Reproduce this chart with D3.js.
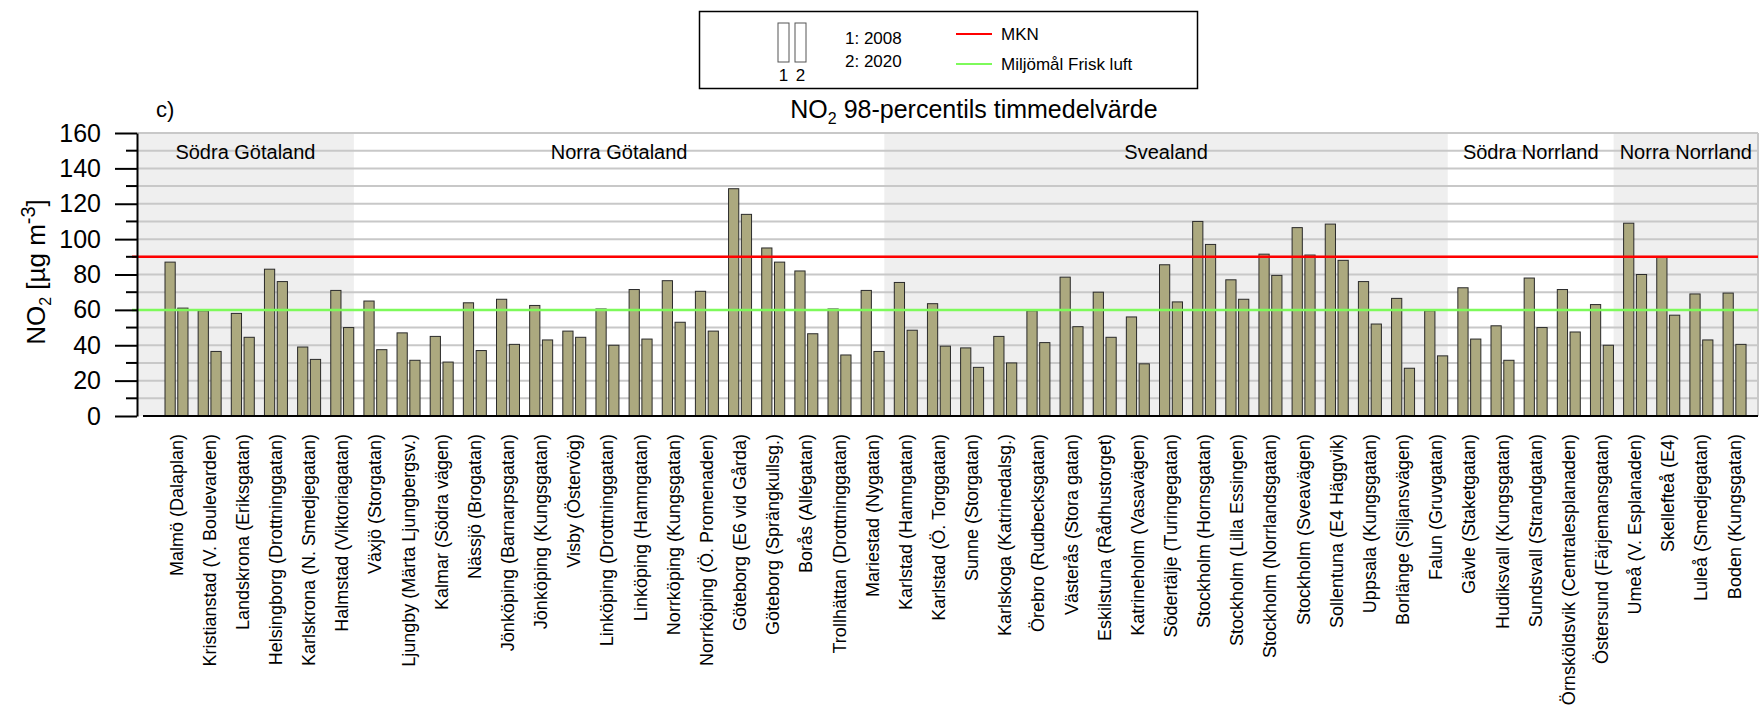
<!DOCTYPE html>
<html>
<head>
<meta charset="utf-8">
<script src="https://cdn.jsdelivr.net/npm/d3@7"></script>
<style>
  body { margin: 0; background: #fff; }
  svg { display: block; font-family: "Liberation Sans", Arial, sans-serif; }
</style>
</head>
<body>
<svg width="1764" height="718"></svg>
<script>
const categories = ["Malmö (Dalaplan)", "Kristianstad (V. Boulevarden)", "Landskrona (Eriksgatan)",
  "Helsingborg (Drottninggatan)", "Karlskrona (N. Smedjegatan)", "Halmstad (Viktoriagatan)",
  "Växjö (Storgatan)", "Ljungby (Märta Ljungbergsv.)", "Kalmar (Södra vägen)", "Nässjö (Brogatan)",
  "Jönköping (Barnarpsgatan)", "Jönköping (Kungsgatan)", "Visby (Östervög)", "Linköping (Drottninggatan)",
  "Linköping (Hamngatan)", "Norrköping (Kungsgatan)", "Norrköping (Ö. Promenaden)", "Göteborg (E6 vid Gårda)",
  "Göteborg (Sprängkullsg.)", "Borås (Allégatan)", "Trollhättan (Drottninggatan)", "Mariestad (Nygatan)",
  "Karlstad (Hamngatan)", "Karlstad (Ö. Torggatan)", "Sunne (Storgatan)", "Karlskoga (Katrinedalsg.)",
  "Örebro (Rudbecksgatan)", "Västerås (Stora gatan)", "Eskilstuna (Rådhustorget)", "Katrineholm (Vasavägen)",
  "Södertälje (Turingegatan)", "Stockholm (Hornsgatan)", "Stockholm (Lilla Essingen)", "Stockholm (Norrlandsgatan)",
  "Stockholm (Sveavägen)", "Sollentuna (E4 Häggvik)", "Uppsala (Kungsgatan)", "Borlänge (Siljansvägen)",
  "Falun (Gruvgatan)", "Gävle (Staketgatan)", "Hudiksvall (Kungsgatan)", "Sundsvall (Strandgatan)",
  "Örnsköldsvik (Centralesplanaden)", "Östersund (Färjemansgatan)", "Umeå (V. Esplanaden)", "Skellefteå (E4)",
  "Luleå (Smedjegatan)", "Boden (Kungsgatan)"];

const values2008 = [87, 59.5, 58, 83, 39, 71, 65, 47, 45, 64, 66, 62.5, 48, 60.5, 71.5, 76.5, 70.5, 128.5,
  95, 82, 60.5, 71, 75.5, 63.5, 38.5, 45, 59.5, 78.5, 70, 56, 85.5, 110, 77, 91.5, 106.5, 108.5, 76, 66.5,
  59.5, 72.5, 51, 78, 71.5, 63, 109, 90, 69, 69.5];

const values2020 = [61, 36.5, 44.5, 76, 32, 50, 37.5, 31.5, 30.5, 37, 40.5, 43, 44.5, 40, 43.5, 53, 48, 114,
  87, 46.5, 34.5, 36.5, 48.5, 39.5, 27.5, 30, 41.5, 50.5, 44.5, 29.5, 64.5, 97, 66, 79.5, 91, 88, 52, 27,
  34, 43.5, 31.5, 50, 47.5, 40, 80, 57, 43, 40.5];

const regionNames = ["Södra Götaland", "Norra Götaland", "Svealand", "Södra Norrland", "Norra Norrland"];
const regionCounts = [6, 16, 17, 5, 4];

const years = ["2008", "2020"];
const yTicks = [0, 20, 40, 60, 80, 100, 120, 140, 160];
const limitMKN = 90;
const limitMiljomal = 60;

const width = 1764;
const height = 718;
const plot = { left: 137, right: 1758, top: 133, bottom: 416 };

const svg = d3.select("svg")
  .attr("viewBox", [0, 0, width, height]);

const x = d3.scaleBand()
  .domain(categories)
  .range([155, 1746.2])
  .padding(0);

const x1 = d3.scaleBand()
  .domain(years)
  .range([10, 33])
  .paddingInner(0.2);

const y = d3.scaleLinear()
  .domain([0, 160])
  .range([plot.bottom, plot.top]);

// region background
let start = 0;
const regions = regionNames.map((name, i) => {
  const first = categories[start];
  const last = categories[start + regionCounts[i] - 1];
  start += regionCounts[i];
  return {
    name,
    x0: i === 0 ? plot.left : x(first),
    x1: i === regionNames.length - 1 ? plot.right : x(last) + x.bandwidth(),
    shaded: i % 2 === 0
  };
});

svg.append("g")
  .selectAll("rect")
  .data(regions)
  .join("rect")
  .attr("x", d => d.x0)
  .attr("y", plot.top)
  .attr("width", d => d.x1 - d.x0)
  .attr("height", plot.bottom - plot.top)
  .attr("fill", d => d.shaded ? "#efefef" : "#fff");

// grid every 10
svg.append("g")
  .attr("stroke", "#c8c8c8")
  .attr("stroke-width", 2)
  .selectAll("line")
  .data(d3.range(10, 161, 10))
  .join("line")
  .attr("x1", plot.left)
  .attr("x2", plot.right)
  .attr("y1", d => y(d))
  .attr("y2", d => y(d));

svg.append("line")
  .attr("x1", plot.right).attr("x2", plot.right)
  .attr("y1", plot.top).attr("y2", plot.bottom)
  .attr("stroke", "#c8c8c8")
  .attr("stroke-width", 2);

svg.append("g")
  .attr("font-size", 20)
  .attr("text-anchor", "middle")
  .selectAll("text")
  .data(regions)
  .join("text")
  .attr("x", d => (d.x0 + d.x1) / 2)
  .attr("y", 159)
  .text(d => d.name);

// bars
const rows = categories.map((c, i) => ({ name: c, values: [values2008[i], values2020[i]] }));

svg.append("g")
  .selectAll("g")
  .data(rows)
  .join("g")
  .attr("transform", d => `translate(${x(d.name)},0)`)
  .selectAll("rect")
  .data(d => d.values.map((v, j) => ({ year: years[j], value: v })))
  .join("rect")
  .attr("x", d => x1(d.year))
  .attr("y", d => y(d.value))
  .attr("width", x1.bandwidth())
  .attr("height", d => y(0) - y(d.value))
  .attr("fill", "#aca97f")
  .attr("stroke", "#2a2a2a")
  .attr("stroke-width", 1);

// limit lines
svg.append("line")
  .attr("x1", 132).attr("x2", plot.right)
  .attr("y1", y(limitMiljomal)).attr("y2", y(limitMiljomal))
  .attr("stroke", "#7dfa5a").attr("stroke-width", 2.5);

svg.append("line")
  .attr("x1", 132).attr("x2", plot.right)
  .attr("y1", y(limitMKN)).attr("y2", y(limitMKN))
  .attr("stroke", "#ff0000").attr("stroke-width", 2.5);

// baseline
svg.append("line")
  .attr("x1", 143).attr("x2", plot.right)
  .attr("y1", y(0)).attr("y2", y(0))
  .attr("stroke", "#000").attr("stroke-width", 2);

// y axis
const yAxis = g => g
  .attr("transform", `translate(${plot.left},0)`)
  .call(d3.axisLeft(y).tickValues(yTicks).tickSize(22).tickPadding(14).tickSizeOuter(0))
  .call(g => g.selectAll("line").attr("stroke-width", 2))
  .call(g => g.select(".domain").attr("stroke-width", 2))
  .call(g => g.selectAll("text").attr("font-size", 25).attr("fill", "#000")
    .attr("font-family", "Liberation Sans, Arial, sans-serif"));

svg.append("g").call(yAxis);

svg.append("g")
  .attr("stroke", "#000")
  .attr("stroke-width", 2)
  .selectAll("line")
  .data(d3.range(10, 160, 20))
  .join("line")
  .attr("x1", plot.left - 11)
  .attr("x2", plot.left)
  .attr("y1", d => y(d))
  .attr("y2", d => y(d));

// x labels
svg.append("g")
  .attr("font-size", 18)
  .attr("text-anchor", "end")
  .selectAll("text")
  .data(categories)
  .join("text")
  .attr("transform", d => `translate(${x(d) + 10 + 11.5 + 6},434) rotate(-90)`)
  .text(d => d);

// y title
const yTitle = svg.append("text")
  .attr("transform", "translate(45,272) rotate(-90)")
  .attr("text-anchor", "middle")
  .attr("font-size", 26);
yTitle.append("tspan").text("NO");
yTitle.append("tspan").attr("font-size", 16).attr("dy", 6).text("2");
yTitle.append("tspan").attr("dy", -6).text(" [µg m");
yTitle.append("tspan").attr("font-size", 20).attr("dy", -10).text("-3");
yTitle.append("tspan").attr("dy", 10).text("]");

// panel letter and title
svg.append("text")
  .attr("x", 156).attr("y", 117)
  .attr("font-size", 22)
  .text("c)");

const title = svg.append("text")
  .attr("x", 974).attr("y", 118)
  .attr("text-anchor", "middle")
  .attr("font-size", 25);
title.append("tspan").text("NO");
title.append("tspan").attr("font-size", 16).attr("dy", 6).text("2");
title.append("tspan").attr("dy", -6).text(" 98-percentils timmedelvärde");

// legend
const legend = svg.append("g").attr("font-size", 17);

legend.append("rect")
  .attr("x", 699.5).attr("y", 11.5)
  .attr("width", 498).attr("height", 77)
  .attr("fill", "#fff").attr("stroke", "#000").attr("stroke-width", 1.5);

legend.selectAll(".lb")
  .data(years)
  .join("rect")
  .attr("class", "lb")
  .attr("x", (d, i) => 778 + i * 17)
  .attr("y", 23)
  .attr("width", 11)
  .attr("height", 39)
  .attr("fill", "#fff")
  .attr("stroke", "#555")
  .attr("stroke-width", 1);

legend.selectAll(".ln")
  .data(years)
  .join("text")
  .attr("class", "ln")
  .attr("x", (d, i) => 783.5 + i * 17)
  .attr("y", 81)
  .attr("text-anchor", "middle")
  .text((d, i) => i + 1);

legend.selectAll(".ly")
  .data(years)
  .join("text")
  .attr("class", "ly")
  .attr("x", 845)
  .attr("y", (d, i) => 44 + i * 23)
  .text((d, i) => `${i + 1}: ${d}`);

const limits = [
  { label: "MKN", color: "#ff0000", y: 34 },
  { label: "Miljömål Frisk luft", color: "#7dfa5a", y: 64 }
];

legend.selectAll(".ll")
  .data(limits)
  .join("line")
  .attr("class", "ll")
  .attr("x1", 956).attr("x2", 992)
  .attr("y1", d => d.y).attr("y2", d => d.y)
  .attr("stroke", d => d.color)
  .attr("stroke-width", 2);

legend.selectAll(".lt")
  .data(limits)
  .join("text")
  .attr("class", "lt")
  .attr("x", 1001)
  .attr("y", d => d.y + 6)
  .text(d => d.label);
</script>
</body>
</html>
